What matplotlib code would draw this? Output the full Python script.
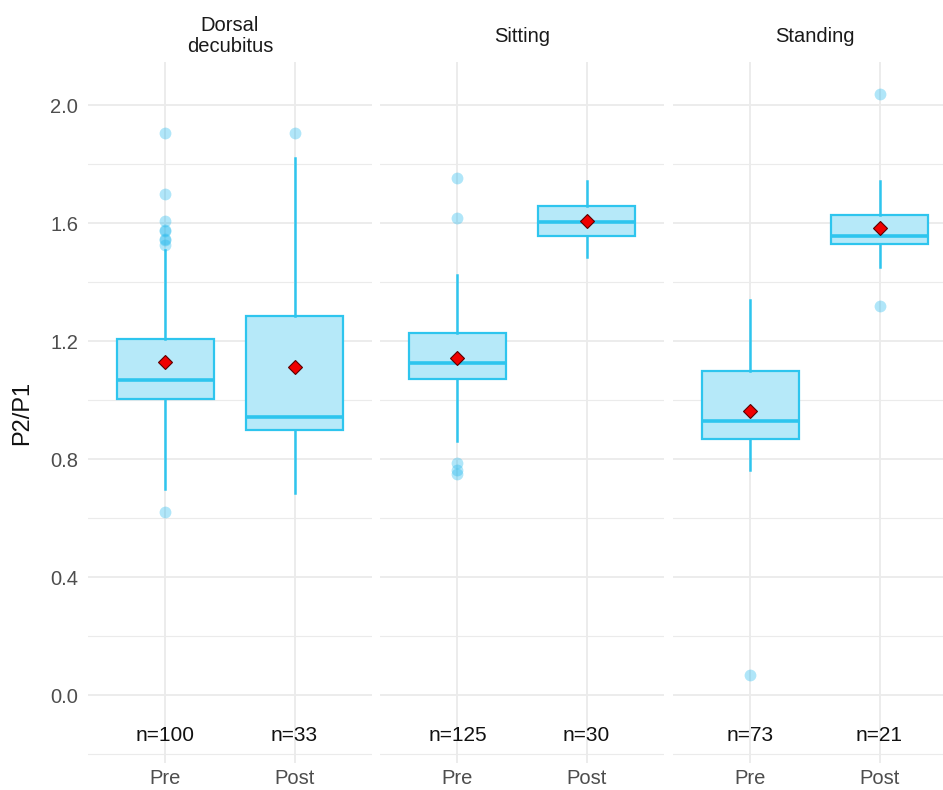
import matplotlib
matplotlib.use("Agg")
import matplotlib.pyplot as plt

plt.rcParams['font.family'] = ['Liberation Sans', 'DejaVu Sans']

# summary statistics per posture, [Pre, Post]
positions = ['Dorsal\ndecubitus', 'Sitting', 'Standing']
timepoints = ['Pre', 'Post']
n_counts = [[100, 33], [125, 30], [73, 21]]
q1 = [[1.004, 0.898], [1.070, 1.557], [0.868, 1.528]]
median = [[1.068, 0.943], [1.127, 1.604], [0.930, 1.556]]
q3 = [[1.207, 1.285], [1.227, 1.659], [1.099, 1.627]]
whisker_low = [[0.700, 0.685], [0.862, 1.486], [0.763, 1.452]]
whisker_high = [[1.508, 1.820], [1.424, 1.742], [1.339, 1.742]]
means = [[1.129, 1.113], [1.143, 1.607], [0.963, 1.584]]
outliers = [
    [[1.906, 1.698, 1.608, 1.578, 1.574, 1.545, 1.541, 1.525, 0.620], [1.906]],
    [[1.754, 1.616, 0.786, 0.762, 0.750], []],
    [[0.068], [2.036, 1.319]],
]

BOX_EDGE = '#2EC5EE'
BOX_FILL = '#B6E9F9'
POINT = '#1EB8EE'
GRID = '#EBEBEB'

fig = plt.figure(figsize=(9.43, 7.90), dpi=100)

panel_left = [88, 380, 673]
panel_w = 284
top_px, bottom_px = 62, 763
W, H = 943, 790

for p, name in enumerate(positions):
    ax = fig.add_axes([panel_left[p] / W, 1 - bottom_px / H,
                       panel_w / W, (bottom_px - top_px) / H])
    stats = []
    for t in range(2):
        stats.append({
            'med': median[p][t], 'q1': q1[p][t], 'q3': q3[p][t],
            'whislo': whisker_low[p][t], 'whishi': whisker_high[p][t],
            'mean': means[p][t], 'fliers': outliers[p][t], 'label': timepoints[t],
        })
    ax.bxp(stats, positions=[1, 2], widths=0.75, patch_artist=True,
           showmeans=True, showcaps=False,
           boxprops=dict(facecolor=BOX_FILL, edgecolor=BOX_EDGE, linewidth=1.6),
           medianprops=dict(color=BOX_EDGE, linewidth=2.6),
           whiskerprops=dict(color=BOX_EDGE, linewidth=1.8),
           flierprops=dict(marker='o', markerfacecolor=POINT, markeredgecolor='none',
                           markersize=8.5, alpha=0.35),
           meanprops=dict(marker='D', markerfacecolor='#F00000', markeredgecolor='#5A0000',
                          markeredgewidth=0.8, markersize=7.5))

    for t in range(2):
        ax.text(t + 1, -0.136, f"n={n_counts[p][t]}", ha='center', va='center',
                fontsize=15, color='#111111')

    ax.set_xlim(0.4, 2.6)
    ax.set_ylim(-0.23, 2.146)
    ax.set_yticks([0.0, 0.4, 0.8, 1.2, 1.6, 2.0])
    ax.set_yticks([-0.2, 0.2, 0.6, 1.0, 1.4, 1.8], minor=True)
    ax.set_xticks([1, 2])
    ax.set_xticklabels(timepoints)
    ax.grid(True, which='major', color=GRID, linewidth=1.3)
    ax.grid(True, which='minor', axis='y', color=GRID, linewidth=0.8)
    ax.set_axisbelow(True)
    ax.tick_params(which='both', length=0, labelsize=14.5, labelcolor='#4D4D4D')
    ax.tick_params(axis='x', pad=4, labelsize=14.5)
    for s in ax.spines.values():
        s.set_visible(False)

    if p == 0:
        ax.set_yticklabels(['0.0', '0.4', '0.8', '1.2', '1.6', '2.0'])
        ax.tick_params(axis='y', pad=7)
        ax.set_ylabel('P2/P1', fontsize=17, color='#111111', labelpad=12)
    else:
        ax.tick_params(axis='y', labelleft=False)

    ax.text(0.5, 1 + 26 / (bottom_px - top_px), name, transform=ax.transAxes,
            ha='center', va='center', fontsize=14.5, color='#1A1A1A', linespacing=1.15)

fig.savefig('out.png', dpi=100)
